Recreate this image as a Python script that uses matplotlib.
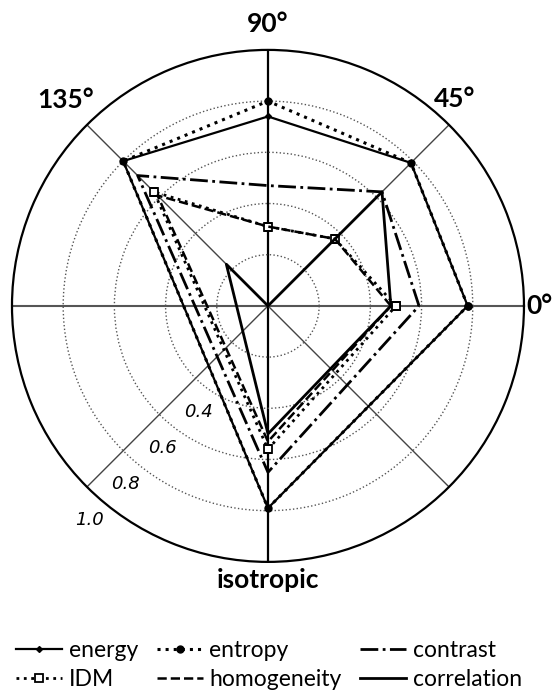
import numpy as np
import matplotlib
matplotlib.use('Agg')
import matplotlib.pyplot as plt

# categories and the angle of their spoke (degrees)
categories = ['0°', '45°', '90°', '135°', 'isotropic']
angles_deg = [0, 45, 90, 135, 270]

# series values, same order as categories
energy = [0.78, 0.79, 0.74, 0.80, 0.79]
entropy = [0.78, 0.79, 0.80, 0.80, 0.79]
contrast = [0.59, 0.63, 0.47, 0.72, 0.65]
idm = [0.50, 0.37, 0.31, 0.63, 0.56]
homogeneity = [0.48, 0.37, 0.31, 0.61, 0.53]
correlation = [0.48, 0.63, 0.00, 0.23, 0.50]

r_ticks = [0.2, 0.4, 0.6, 0.8]
r_labels = [0.4, 0.6, 0.8, 1.0]

fig = plt.figure(figsize=(5.55, 6.98), dpi=100)
ax = fig.add_axes([0.0216, 0.195, 0.9225, 0.7335], projection='polar')

theta = np.deg2rad(angles_deg + angles_deg[:1])

def closed(v):
    return list(v) + [v[0]]

series = [
    ('energy', energy, dict(ls='-', lw=1.6, marker='D', ms=3, mfc='black')),
    ('entropy', entropy, dict(ls=':', lw=2.2, marker='o', ms=5, mfc='black')),
    ('contrast', contrast, dict(ls='-.', lw=2.0)),
    ('IDM', idm, dict(ls=':', lw=2.0, marker='s', ms=6, mfc='white', mew=1.3)),
    ('homogeneity', homogeneity, dict(ls='--', lw=1.8)),
    ('correlation', correlation, dict(ls='-', lw=2.0)),
]

handles = {}
for name, vals, style in series:
    line, = ax.plot(theta, closed(vals), color='black', label=name, zorder=3, **style)
    handles[name] = line

ax.set_ylim(0, 1)
ax.set_yticks(r_ticks)
ax.set_yticklabels([])
ax.set_xticks(np.deg2rad(np.arange(0, 360, 45)))
ax.set_xticklabels([])
ax.yaxis.grid(True, color='#555555', ls=':', lw=1.0)
ax.xaxis.grid(True, color='#444444', ls='-', lw=1.0)
gl = ax.xaxis.get_gridlines()
for i, g in enumerate(gl):
    if i in (2, 6):
        g.set_color('black'); g.set_linewidth(1.6)
    elif i in (0, 4):
        g.set_color('#555555'); g.set_linewidth(1.5)
ax.spines['polar'].set_linewidth(1.6)
ax.spines['polar'].set_color('black')

# category labels
label_pos = {'0°': (0, 1.06), '45°': (48, 1.09), '90°': (90, 1.10),
             '135°': (134.5, 1.13), 'isotropic': (270, 1.07)}
for c in categories:
    a, r = label_pos[c]
    ax.text(np.deg2rad(a), r, c, ha='center', va='center', fontsize=19,
            fontweight='bold', family='Lato', clip_on=False)

# radial value labels just below where each circle meets the 225° spoke
for v in r_labels:
    ax.annotate('%.1f' % v, xy=(np.deg2rad(225), v), xytext=(2, -24),
                textcoords='offset points', ha='center', va='center',
                fontsize=13, style='italic', annotation_clip=False)

order = ['energy', 'IDM', 'entropy', 'homogeneity', 'contrast', 'correlation']
fig.legend([handles[n] for n in order], order, ncol=3, loc='lower center',
           bbox_to_anchor=(0.485, -0.018), frameon=False,
           prop={'family': 'Lato', 'size': 16.5}, handlelength=2.0,
           handletextpad=0.3, columnspacing=0.8, labelspacing=0.35)

fig.savefig('out.png', dpi=100)
